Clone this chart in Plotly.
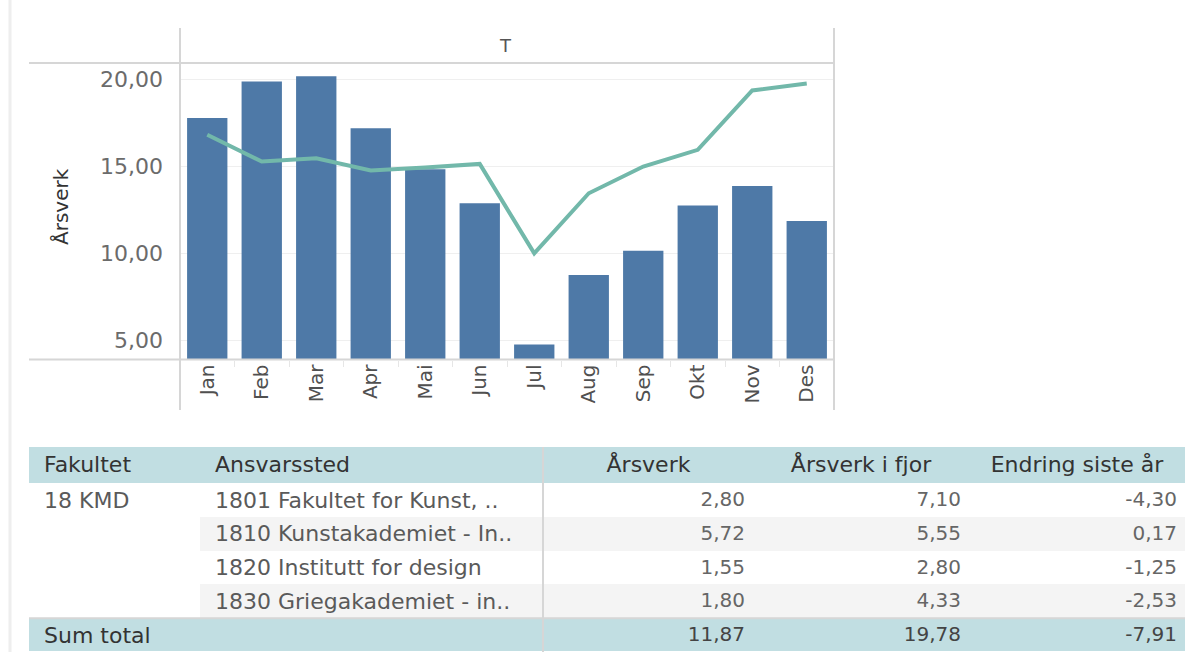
import plotly.graph_objects as go

W, H = 1185, 652
def px(x):
    return x / W
def py(y):
    return 1 - y / H

# ---- chart data ----
months = ["Jan", "Feb", "Mar", "Apr", "Mai", "Jun", "Jul", "Aug", "Sep", "Okt", "Nov", "Des"]
arsverk = [17.79, 19.90, 20.19, 17.21, 14.85, 12.88, 4.75, 8.75, 10.15, 12.75, 13.88, 11.87]
arsverk_fjor = [16.83, 15.29, 15.48, 14.77, 14.94, 15.15, 10.00, 13.46, 15.00, 15.96, 19.38, 19.78]
y_ticks = [5, 10, 15, 20]

# ---- table data ----
headers = ["Fakultet", "Ansvarssted", "Årsverk", "Årsverk i fjor", "Endring siste år"]
fakultet = ["18 KMD", "", "", "", "Sum total"]
ansvarssted = ["1801 Fakultet for Kunst, ..", "1810 Kunstakademiet - In..",
               "1820 Institutt for design", "1830 Griegakademiet - in..", ""]
tab_arsverk = [2.80, 5.72, 1.55, 1.80, 11.87]
tab_fjor = [7.10, 5.55, 2.80, 4.33, 19.78]
tab_endring = [-4.30, 0.17, -1.25, -2.53, -7.91]

BAR = "#4e79a7"
LINE = "#72b8aa"
TEAL = "#c1dee2"
GRAY_ROW = "#f4f4f4"
FRAME = "#d6d6d6"
FONT = "DejaVu Sans"

def fmt(v):
    return f"{v:.2f}".replace(".", ",")

NB = "\u00a0"

fig = go.Figure()

fig.add_trace(go.Bar(
    x=months, y=arsverk, marker=dict(color=BAR, line=dict(width=0)),
    width=0.74, xaxis="x", yaxis="y", hoverinfo="x+y",
))
fig.add_trace(go.Scatter(
    x=months, y=arsverk_fjor, mode="lines",
    line=dict(color=LINE, width=4), xaxis="x", yaxis="y",
))

n = len(fakultet)
fills = [
    ["white"] * (n - 1) + [TEAL],
    ["white" if i % 2 == 0 else GRAY_ROW for i in range(n - 1)] + [TEAL],
]
fills += [fills[1]] * 3
fcol_left = ["#5a5a5a"] * (n - 1) + ["#333333"]
fcol_num = ["#666666"] * (n - 1) + ["#444444"]

fig.add_trace(go.Table(
    domain=dict(x=[px(29), 1.0], y=[0.0, py(447)]),
    columnwidth=[171, 344, 209, 216, 216],
    header=dict(
        values=[NB + headers[0], NB + headers[1]] + headers[2:],
        fill_color=TEAL, height=36,
        align=["left", "left", "center", "center", "center"],
        font=dict(family=FONT, size=22, color="#333333"),
        line=dict(color="rgba(0,0,0,0)", width=0),
    ),
    cells=dict(
        values=[[NB + s if s else s for s in fakultet],
                [NB + s if s else s for s in ansvarssted],
                [fmt(v) for v in tab_arsverk],
                [fmt(v) for v in tab_fjor],
                [fmt(v) for v in tab_endring]],
        fill_color=fills, height=33.8,
        align=["left", "left", "right", "right", "right"],
        font=dict(family=FONT, size=[22, 22, 20, 20, 20],
                  color=[fcol_left, fcol_left, fcol_num, fcol_num, fcol_num]),
        line=dict(color="rgba(0,0,0,0)", width=0),
    ),
))

line_style = dict(color=FRAME, width=2)
shapes = [
    dict(type="line", xref="paper", yref="paper", x0=px(10), x1=px(10), y0=0, y1=1,
         line=dict(color="#eeeeee", width=3)),
    dict(type="line", xref="paper", yref="paper", x0=px(180), x1=px(180), y0=py(28), y1=py(410), line=line_style),
    dict(type="line", xref="paper", yref="paper", x0=px(834), x1=px(834), y0=py(28), y1=py(410), line=line_style),
    dict(type="line", xref="paper", yref="paper", x0=px(29), x1=px(834), y0=py(63), y1=py(63), line=line_style),
    dict(type="line", xref="paper", yref="paper", x0=px(29), x1=px(834), y0=py(359.5), y1=py(359.5), line=line_style),
    dict(type="line", xref="paper", yref="paper", x0=px(543), x1=px(543), y0=0, y1=py(447), line=line_style),
    dict(type="line", xref="paper", yref="paper", x0=px(29), x1=1, y0=py(618.2), y1=py(618.2), line=line_style),
]

annotations = [
    dict(text="T", xref="paper", yref="paper", x=px(505), y=py(45), showarrow=False,
         font=dict(family=FONT, size=18, color="#555555"), xanchor="center", yanchor="middle"),
    dict(text="Årsverk", xref="paper", yref="paper", x=px(61), y=py(207), showarrow=False,
         textangle=-90, font=dict(family=FONT, size=20, color="#333333"),
         xanchor="center", yanchor="middle"),
]

fig.update_layout(
    width=W, height=H, margin=dict(l=0, r=0, t=0, b=0),
    paper_bgcolor="white", plot_bgcolor="white",
    showlegend=False, separators=", ",
    font=dict(family=FONT),
    xaxis=dict(
        domain=[px(180), px(834)], type="category",
        tickson="boundaries", ticks="outside", ticklen=6, tickcolor="#e6e6e6", tickwidth=1,
        tickangle=-90, tickfont=dict(family=FONT, size=20, color="#505050"),
        showgrid=False, showline=False, zeroline=False, fixedrange=True,
    ),
    yaxis=dict(
        domain=[py(359.5), py(63)], range=[3.89, 20.96],
        tickvals=y_ticks, tickformat=".2f",
        tickfont=dict(family=FONT, size=22, color="#6b6b6b"),
        ticks="", ticklabelstandoff=16,
        showgrid=True, gridcolor="#efefef", gridwidth=1,
        showline=False, zeroline=False, fixedrange=True,
    ),
    shapes=shapes, annotations=annotations,
)

fig.write_html("out.html", config={"displayModeBar": False},
               post_script="document.body.style.margin='0';document.body.style.overflow='hidden';")
